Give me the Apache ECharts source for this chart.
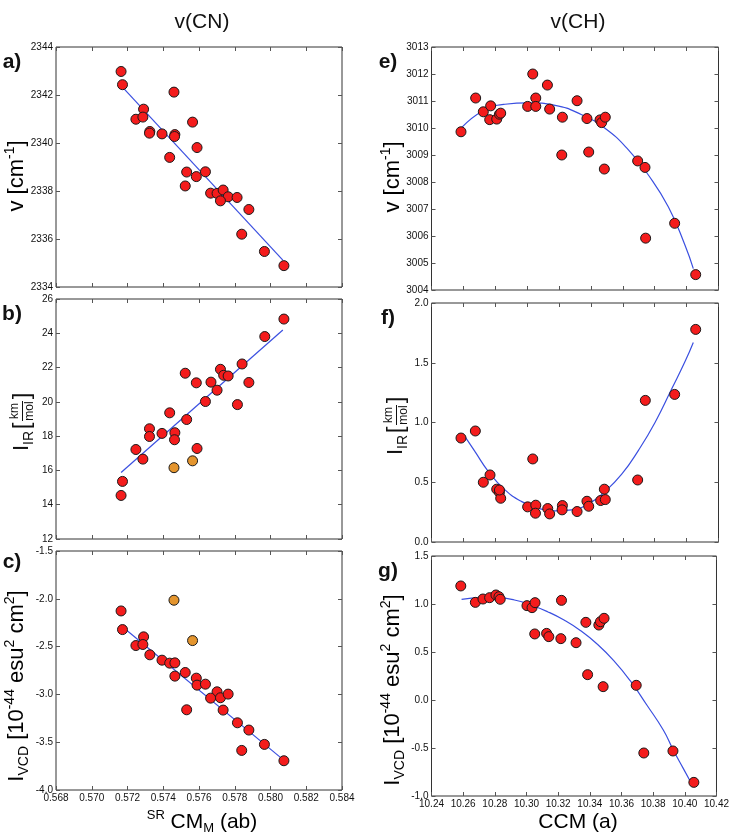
<!DOCTYPE html>
<html>
<head>
<meta charset="utf-8">
<script src="https://cdn.jsdelivr.net/npm/echarts@6.0.0/dist/echarts.min.js"></script>
<style>html,body{margin:0;padding:0;background:#fff}#c{width:732px;height:832px}</style>
</head>
<body>
<div id="c"></div>
<script>
// ---- data ----
const cnTicksX = [0.568, 0.584, 0.002];
const chTicksX = [10.24, 10.42, 0.02];

const aX = [0.57164,0.57172,0.57460,0.57290,0.57247,0.57286,0.57564,0.57325,0.57323,0.57393,0.57465,0.57463,0.57589,0.57436,0.57531,0.57636,0.57585,0.57523,0.57665,0.57701,0.57735,0.57763,0.57720,0.57813,0.57879,0.57839,0.57966,0.58075];
const aY = [2342.98,2342.43,2342.12,2341.41,2340.99,2341.08,2340.87,2340.48,2340.41,2340.38,2340.35,2340.27,2339.81,2339.40,2338.79,2338.80,2338.60,2338.21,2337.91,2337.90,2338.04,2337.76,2337.59,2337.73,2337.23,2336.20,2335.48,2334.89];
const aFitX = [0.57168, 0.58069];
const aFitY = [2342.36, 2335.12];

const bX = [0.58075,0.57968,0.57841,0.57720,0.57523,0.57738,0.57763,0.57585,0.57667,0.57879,0.57701,0.57636,0.57815,0.57436,0.57531,0.57323,0.57323,0.57393,0.57465,0.57463,0.57247,0.57589,0.57286,0.57172,0.57164];
const bY = [24.83,23.81,22.21,21.90,21.67,21.55,21.51,21.11,21.15,21.13,20.68,20.02,19.84,19.36,18.97,18.43,17.98,18.16,18.20,17.79,17.22,17.28,16.66,15.36,14.54];
const bOrX = [0.57460, 0.57564];
const bOrY = [16.16, 16.56];
const bFitX = [0.57164, 0.58069];
const bFitY = [15.88, 24.19];

const cX = [0.57164,0.57172,0.57290,0.57247,0.57286,0.57325,0.57393,0.57436,0.57465,0.57465,0.57523,0.57585,0.57589,0.57636,0.57701,0.57665,0.57720,0.57763,0.57735,0.57531,0.57815,0.57879,0.57966,0.57839,0.58075];
const cY = [-2.127,-2.322,-2.398,-2.489,-2.478,-2.586,-2.642,-2.673,-2.670,-2.809,-2.771,-2.830,-2.903,-2.893,-2.973,-3.039,-3.035,-2.997,-3.164,-3.161,-3.297,-3.373,-3.523,-3.586,-3.694];
const cOrX = [0.57460, 0.57564];
const cOrY = [-2.015, -2.437];
const cFitX = [0.57168, 0.58069];
const cFitY = [-2.287, -3.680];

const eX = [10.2585,10.2677,10.2725,10.2771,10.2765,10.2809,10.2826,10.2834,10.3035,10.3003,10.3054,10.3054,10.3127,10.3141,10.3221,10.3217,10.3313,10.3375,10.3386,10.3457,10.3467,10.3490,10.3484,10.3693,10.3739,10.3743,10.3925,10.4057];
const eY = [3009.86,3011.11,3010.60,3010.82,3010.31,3010.33,3010.51,3010.55,3012.00,3010.80,3011.11,3010.80,3011.59,3010.70,3010.40,3009.00,3011.01,3010.35,3009.11,3010.30,3010.20,3010.40,3008.48,3008.78,3008.54,3005.92,3006.47,3004.57];
const eFitX = [10.259,10.2725,10.2861,10.3008,10.3175,10.3342,10.3488,10.3635,10.376,10.3885,10.399,10.4042];
const eFitY = [3010.02,3010.64,3010.88,3010.93,3010.84,3010.49,3009.99,3009.19,3008.26,3007.08,3005.66,3004.79];

const fX = [10.4057,10.3925,10.3741,10.2585,10.2675,10.3035,10.3693,10.2767,10.2725,10.2809,10.2826,10.2834,10.3484,10.3461,10.3490,10.3375,10.3386,10.3003,10.3054,10.3052,10.3129,10.3141,10.3221,10.3219,10.3313,10.2826];
const fY = [1.779,1.235,1.185,0.870,0.929,0.695,0.519,0.561,0.500,0.442,0.416,0.366,0.442,0.347,0.355,0.341,0.299,0.294,0.308,0.241,0.280,0.235,0.305,0.269,0.255,0.435];
const fFitX = [10.261,10.2673,10.2757,10.2861,10.2966,10.307,10.3175,10.3279,10.3384,10.3488,10.3593,10.3697,10.3802,10.3906,10.399,10.4042];
const fFitY = [0.882,0.756,0.589,0.436,0.338,0.283,0.260,0.269,0.319,0.422,0.567,0.765,1.000,1.280,1.510,1.670];

const gX = [10.2585,10.2677,10.2725,10.2767,10.2807,10.2826,10.2834,10.3003,10.3035,10.3054,10.3221,10.3052,10.3127,10.3141,10.3217,10.3313,10.3375,10.3457,10.3467,10.3490,10.3386,10.3484,10.3693,10.3741,10.3925,10.4057];
const gY = [1.188,1.017,1.052,1.066,1.094,1.076,1.049,0.983,0.962,1.014,1.038,0.688,0.694,0.660,0.639,0.597,0.809,0.781,0.816,0.851,0.264,0.139,0.153,-0.552,-0.531,-0.858];
const gFitX = [10.259,10.2715,10.282,10.2924,10.3028,10.3133,10.3237,10.3342,10.3446,10.3551,10.3655,10.376,10.3864,10.3927,10.399,10.4036];
const gFitY = [1.049,1.063,1.063,1.042,0.990,0.920,0.833,0.722,0.583,0.410,0.201,-0.052,-0.313,-0.521,-0.712,-0.851];

// y ranges [min, max, interval, decimals]
const aYTicks = [2334, 2344, 2, 0];
const bYTicks = [12, 26, 2, 0];
const cYTicks = [-4.0, -1.5, 0.5, 1];
const eYTicks = [3004, 3013, 1, 0];
const fYTicks = [0.0, 2.0, 0.5, 1];
const gYTicks = [-1.0, 1.5, 0.5, 1];

// ---- build ----
const NARROW = '"Liberation Sans Narrow","Liberation Sans",Arial,sans-serif';
const SANS = '"Liberation Sans",Arial,sans-serif';
const zip = (xs, ys) => xs.map((x, i) => [x, ys[i]]);

const panels = [
  {grid:{left:56, top:47, width:286, height:240}, xt:cnTicksX, xd:3, yt:aYTicks, showX:false, pts:zip(aX,aY), fit:zip(aFitX,aFitY), smooth:false},
  {grid:{left:56, top:299, width:286, height:240}, xt:cnTicksX, xd:3, yt:bYTicks, showX:false, pts:zip(bX,bY), or:zip(bOrX,bOrY), fit:zip(bFitX,bFitY), smooth:false},
  {grid:{left:56, top:551, width:286, height:239}, xt:cnTicksX, xd:3, yt:cYTicks, showX:true, pts:zip(cX,cY), or:zip(cOrX,cOrY), fit:zip(cFitX,cFitY), smooth:false},
  {grid:{left:431.5, top:47, width:287, height:243}, xt:chTicksX, xd:2, yt:eYTicks, showX:false, pts:zip(eX,eY), fit:zip(eFitX,eFitY), smooth:true},
  {grid:{left:431.5, top:303, width:287, height:239}, xt:chTicksX, xd:2, yt:fYTicks, showX:false, pts:zip(fX,fY), fit:zip(fFitX,fFitY), smooth:true},
  {grid:{left:431.5, top:556, width:287, height:240}, xt:chTicksX, xd:2, yt:gYTicks, showX:true, pts:zip(gX,gY), fit:zip(gFitX,gFitY), smooth:true}
];

const grid = [], xAxis = [], yAxis = [], series = [];
const tick = {show:true, inside:true, length:4, lineStyle:{color:'#555', width:1}};
const lab = (show, d) => ({show, fontSize:10, color:'#111', fontFamily:NARROW, margin:3,
  formatter: v => Number(v).toFixed(d)});

panels.forEach((p, i) => {
  grid.push(Object.assign({show:true, borderColor:'#333', borderWidth:1, backgroundColor:'#fff'}, p.grid));
  const xb = {type:'value', gridIndex:i, min:p.xt[0], max:p.xt[1], interval:p.xt[2],
    axisLine:{show:false, onZero:false}, axisTick:tick, splitLine:{show:false}};
  xAxis.push(Object.assign({}, xb, {position:'bottom', axisLabel:lab(p.showX, p.xd)}));
  xAxis.push(Object.assign({}, xb, {position:'top', axisLabel:{show:false}}));
  const yb = {type:'value', gridIndex:i, min:p.yt[0], max:p.yt[1], interval:p.yt[2],
    axisLine:{show:false, onZero:false}, axisTick:tick, splitLine:{show:false}};
  yAxis.push(Object.assign({}, yb, {position:'left', axisLabel:lab(true, p.yt[3])}));
  yAxis.push(Object.assign({}, yb, {position:'right', axisLabel:{show:false}}));
  series.push({type:'line', xAxisIndex:2*i, yAxisIndex:2*i, data:p.fit, showSymbol:false,
    smooth:p.smooth ? 0.5 : false, lineStyle:{color:'#3a4fe0', width:1.2}, silent:true, z:2});
  series.push({type:'scatter', xAxisIndex:2*i, yAxisIndex:2*i, data:p.pts, symbolSize:10,
    itemStyle:{color:'#f41c1c', borderColor:'#1a1a1a', borderWidth:1, opacity:1}, z:3});
  if (p.or) series.push({type:'scatter', xAxisIndex:2*i, yAxisIndex:2*i, data:p.or, symbolSize:10,
    itemStyle:{color:'#e4952e', borderColor:'#1a1a1a', borderWidth:1, opacity:1}, z:3});
});

const R = {
  n:{fontSize:22, fontFamily:SANS, color:'#111', lineHeight:28, verticalAlign:'middle'},
  sup:{fontSize:14, fontFamily:SANS, color:'#111', lineHeight:14, verticalAlign:'top'},
  sub:{fontSize:14, fontFamily:SANS, color:'#111', lineHeight:14, verticalAlign:'bottom'}
};
const RX = {
  n:{fontSize:21, fontFamily:SANS, color:'#111', lineHeight:26, verticalAlign:'middle'},
  sup:{fontSize:13, fontFamily:SANS, color:'#111', lineHeight:13, verticalAlign:'top'},
  sub:{fontSize:13, fontFamily:SANS, color:'#111', lineHeight:13, verticalAlign:'bottom'}
};
const rt = (x, y, text, rot, rich) => ({type:'text', x, y, rotation:rot || 0,
  style:{text, rich:rich || R, align:'center', verticalAlign:'middle'}});
const plain = (x, y, text, size, bold, fam) => ({type:'text', x, y,
  style:{text, fontSize:size, fontWeight:bold ? 'bold' : 'normal', fontFamily:fam || SANS, fill:'#111', align:'center', verticalAlign:'middle'}});
const frac = (x, y) => ({type:'group', x, y, rotation:Math.PI/2, children:[
  {type:'text', x:-31, y:0, style:{text:'I', fontSize:22, fontFamily:SANS, fill:'#111', align:'left', verticalAlign:'middle'}},
  {type:'text', x:-25, y:7, style:{text:'IR', fontSize:14, fontFamily:SANS, fill:'#111', align:'left', verticalAlign:'middle'}},
  {type:'text', x:-6, y:0, style:{text:'[', fontSize:24, fontFamily:SANS, fill:'#111', align:'center', verticalAlign:'middle'}},
  {type:'text', x:9, y:-7, style:{text:'km', fontSize:12, fontFamily:SANS, fill:'#111', align:'center', verticalAlign:'middle'}},
  {type:'line', shape:{x1:-1, y1:0.5, x2:19, y2:0.5}, style:{stroke:'#111', lineWidth:1}},
  {type:'text', x:9, y:8, style:{text:'mol', fontSize:12, fontFamily:SANS, fill:'#111', align:'center', verticalAlign:'middle'}},
  {type:'text', x:24, y:0, style:{text:']', fontSize:24, fontFamily:SANS, fill:'#111', align:'center', verticalAlign:'middle'}}
]});

const graphic = [
  plain(202, 22, 'v(CN)', 21, false, NARROW),
  plain(578, 22, 'v(CH)', 21, false, NARROW),
  plain(12, 62, 'a)', 21, true),
  plain(12, 314, 'b)', 21, true),
  plain(12, 562, 'c)', 21, true),
  plain(388, 62, 'e)', 21, true),
  plain(388, 318, 'f)', 21, true),
  plain(388, 571, 'g)', 21, true),
  rt(17, 176, '{n|v [cm}{sup|-1}{n|]}', Math.PI/2),
  frac(22, 420),
  rt(17, 686, '{n|I}{sub|VCD}{n| [10}{sup|-44}{n| esu}{sup|2}{n| cm}{sup|2}{n|]}', Math.PI/2),
  rt(393, 177, '{n|v [cm}{sup|-1}{n|]}', Math.PI/2),
  frac(396, 424),
  rt(393, 690, '{n|I}{sub|VCD}{n| [10}{sup|-44}{n| esu}{sup|2}{n| cm}{sup|2}{n|]}', Math.PI/2),
  rt(202, 822, '{sup|SR}{n| CM}{sub|M}{n| (ab)}', 0, RX),
  rt(578, 822, '{n|CCM (a)}', 0, RX)
];

const chart = echarts.init(document.getElementById('c'), null, {renderer:'canvas'});
chart.setOption({animation:false, backgroundColor:'#fff', grid, xAxis, yAxis, series, graphic});
</script>
</body>
</html>
